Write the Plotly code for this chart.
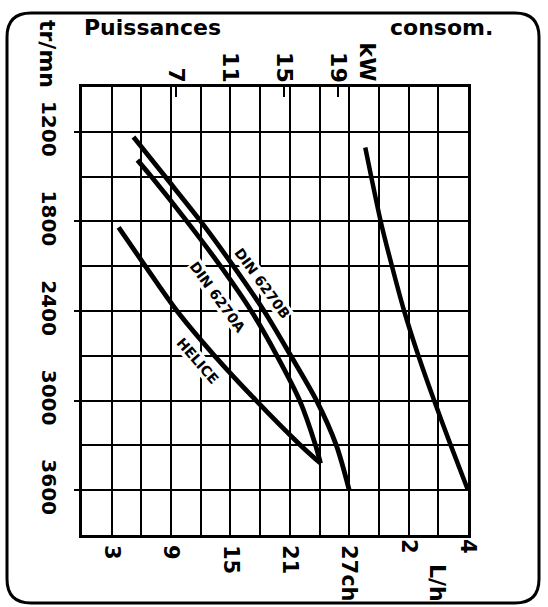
import plotly.graph_objects as go

# ---------------- data ----------------
RPM_B = [1235, 1500, 1800, 2100, 2400, 2700, 3000, 3300, 3600]
CH_B = [5.2, 8.4, 12.0, 15.3, 18.4, 21.1, 23.7, 25.7, 27.0]

RPM_A = [1390, 1500, 1800, 2100, 2400, 2700, 3000, 3300, 3420]
CH_A = [5.6, 7.0, 10.6, 14.0, 17.1, 19.7, 22.0, 23.6, 24.1]

RPM_HELICE = [1840, 2100, 2400, 2700, 3000, 3300, 3420]
CH_HELICE = [3.7, 6.4, 9.6, 13.4, 17.6, 22.1, 24.1]

RPM_CONSO = [1305, 1500, 1800, 2100, 2400, 2700, 3000, 3300, 3600]
LH_CONSO = [0.54, 0.74, 1.06, 1.44, 1.85, 2.33, 2.86, 3.42, 4.0]

RPM_TICKS = [1200, 1800, 2400, 3000, 3600]
CH_TICKS = [3, 9, 15, 21, 27]
CH_TICK_TEXT = ["3", "9", "15", "21", "27ch"]
KW_TICKS = [7, 11, 15, 19]
LH_TICKS = [2, 4]

CH_RANGE = [0, 39]
RPM_RANGE = [3900, 900]
LH_RANGE = [-9, 4]
KW_PER_CH = 0.7355

CURVE_LABELS = [
    ("DIN 6270B", 18.2, 2212, 54),
    ("DIN 6270A", 13.7, 2305, 54),
    ("HELICE", 11.7, 2734, 49),
]

# ---------------- layout geometry ----------------
W, H = 548, 607
ML, MR, MT, MB = 82, 80, 87, 72
PW, PH = W - ML - MR, H - MT - MB
FONT = "DejaVu Sans"


def px(xp):
    return (xp - ML) / PW


def py(yp):
    return (H - MB - yp) / PH


fig = go.Figure()

line_style = dict(color="black", width=4.8, shape="spline", smoothing=0.8)
fig.add_trace(go.Scatter(x=CH_B, y=RPM_B, mode="lines", line=line_style, name="DIN 6270B"))
fig.add_trace(go.Scatter(x=CH_A, y=RPM_A, mode="lines", line=line_style, name="DIN 6270A"))
fig.add_trace(go.Scatter(x=CH_HELICE, y=RPM_HELICE, mode="lines", line=line_style, name="HELICE"))
fig.add_trace(go.Scatter(x=LH_CONSO, y=RPM_CONSO, mode="lines", xaxis="x3",
                         line=dict(color="black", width=4.5, shape="spline", smoothing=0.8),
                         name="consom."))
# empty trace so that the kW (top) axis is drawn
fig.add_trace(go.Scatter(x=[], y=[], xaxis="x2", mode="lines", hoverinfo="skip", name="kW"))

grid_col = "black"
fig.update_layout(
    width=W, height=H,
    margin=dict(l=ML, r=MR, t=MT, b=MB, pad=0),
    paper_bgcolor="white", plot_bgcolor="white",
    showlegend=False,
    font=dict(family=FONT, color="black", weight="bold"),
    xaxis=dict(
        range=CH_RANGE, tickmode="array", tickvals=CH_TICKS, ticktext=CH_TICK_TEXT,
        tickangle=90, tickfont=dict(family=FONT, size=21, weight="bold", color="black"),
        ticks="", ticklabelstandoff=3, automargin=False,
        showgrid=True, gridcolor=grid_col, gridwidth=1.6,
        minor=dict(tickmode="linear", tick0=0, dtick=3, showgrid=True,
                   gridcolor=grid_col, gridwidth=1.6, ticks=""),
        showline=True, mirror=True, linecolor="black", linewidth=2.5,
        zeroline=False,
    ),
    xaxis2=dict(
        overlaying="x", side="top", anchor="y", automargin=False,
        range=[CH_RANGE[0] * KW_PER_CH, CH_RANGE[1] * KW_PER_CH],
        tickmode="array", tickvals=KW_TICKS, ticktext=[str(v) for v in KW_TICKS],
        tickangle=90, tickfont=dict(family=FONT, size=22, weight="bold", color="black"),
        ticks="inside", ticklen=10, tickwidth=2, tickcolor="black",
        ticklabelstandoff=0,
        showgrid=False, showline=False, zeroline=False,
    ),
    xaxis3=dict(
        overlaying="x", side="bottom", anchor="y", automargin=False,
        range=LH_RANGE, tickmode="array", tickvals=LH_TICKS,
        ticktext=[str(v) for v in LH_TICKS],
        tickangle=90, tickfont=dict(family=FONT, size=21, weight="bold", color="black"),
        ticks="", ticklabelstandoff=3,
        showgrid=False, showline=False, zeroline=False,
    ),
    yaxis=dict(
        range=RPM_RANGE, tickmode="array", tickvals=RPM_TICKS,
        ticktext=[str(v) for v in RPM_TICKS], automargin=False,
        tickangle=90, tickfont=dict(family=FONT, size=20, weight="bold", color="black"),
        ticks="outside", ticklen=5, tickwidth=2, tickcolor="black",
        ticklabelstandoff=8,
        showgrid=True, gridcolor=grid_col, gridwidth=1.6,
        minor=dict(tickmode="linear", tick0=900, dtick=300, showgrid=True,
                   gridcolor=grid_col, gridwidth=1.6, ticks=""),
        showline=True, mirror=True, linecolor="black", linewidth=2.5,
        zeroline=False,
    ),
)

# curve labels
for text, xv, yv, ang in CURVE_LABELS:
    fig.add_annotation(x=xv, y=yv, xref="x", yref="y", text=text, showarrow=False,
                       textangle=ang, bgcolor="white", borderpad=0,
                       font=dict(family=FONT, size=14, weight="bold", color="black"))


# headings and unit labels
def note(text, xp, yp, size, angle=0, xanchor="center"):
    fig.add_annotation(x=px(xp), y=py(yp), xref="paper", yref="paper", text=text,
                       showarrow=False, textangle=angle, xanchor=xanchor, yanchor="middle",
                       font=dict(family=FONT, size=size, weight="bold", color="black"))


note("Puissances", 82, 28, 22, xanchor="left")
note("consom.", 388, 28, 22, xanchor="left")
note("tr/mn", 48, 54, 22, angle=90)
note("kW", 367.5, 62, 22, angle=90)
note("L/h", 438, 583, 22, angle=90)

# rounded frame around the whole chart
x0, x1, y0, y1, r = 7, 539, 13, 603, 24
pts = (f"M {px(x0 + r)},{py(y0)} L {px(x1 - r)},{py(y0)} Q {px(x1)},{py(y0)} {px(x1)},{py(y0 + r)} "
       f"L {px(x1)},{py(y1 - r)} Q {px(x1)},{py(y1)} {px(x1 - r)},{py(y1)} "
       f"L {px(x0 + r)},{py(y1)} Q {px(x0)},{py(y1)} {px(x0)},{py(y1 - r)} "
       f"L {px(x0)},{py(y0 + r)} Q {px(x0)},{py(y0)} {px(x0 + r)},{py(y0)} Z")
fig.add_shape(type="path", path=pts, xref="paper", yref="paper",
              line=dict(color="black", width=3), layer="above")

fig.write_html("out.html", config={"displayModeBar": False},
               post_script="document.body.style.margin='0';")
